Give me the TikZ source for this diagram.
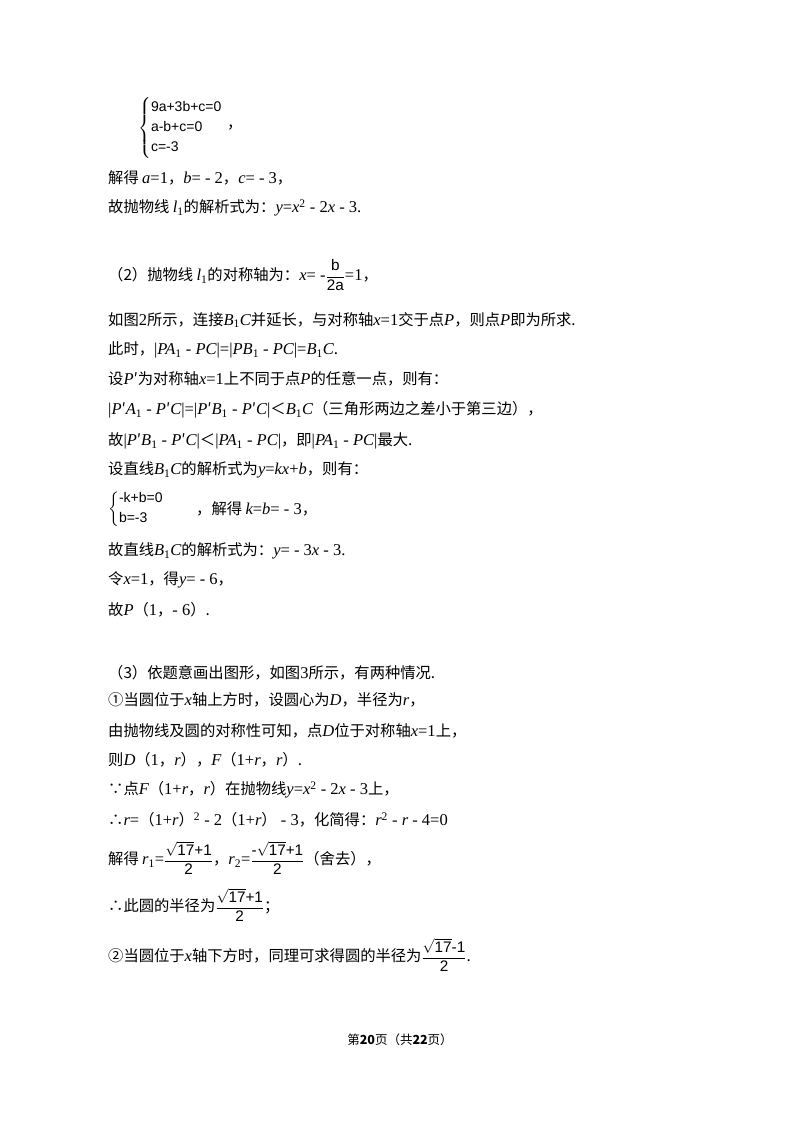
\documentclass[tikz,border=0pt]{standalone}
\usepackage{amsmath}
\usepackage{fontspec}
\setmainfont{Noto Sans CJK SC}
\newfontfamily\lib[Scale=1.08]{Liberation Serif}
\newfontfamily\las{Liberation Sans}
\newcommand{\iv}[1]{{\lib\itshape #1}}
\newcommand{\rr}[1]{{\lib #1}}
\begin{document}
\begin{tikzpicture}[x=1pt,y=-1pt,
  t/.style={anchor=west,inner sep=0pt,font=\fontsize{15.3}{18}\selectfont}]
\useasboundingbox[fill=white] (0,0) rectangle (800,1132);
% system 1
\node[t,font=\fontsize{14}{17}\selectfont] (s1) at (138,128) {$\left\{\begin{array}{@{}l@{}}\text{\las 9a+3b+c=0}\\[3pt]\text{\las a-b+c=0}\\[3pt]\text{\las c=-3}\end{array}\right.$};
\node[t] (c1) at (227,128) {，};
\node[t] (l1) at (108,178) {解得 \iv{a}\rr{=1}，\iv{b}\rr{= - 2}，\iv{c}\rr{= - 3}，};
\node[t] (l2) at (108,208) {故抛物线 \iv{l}\rr{\textsubscript{1}}的解析式为：\iv{y}\rr{=}\iv{x}\rr{\textsuperscript{2} - 2}\iv{x}\rr{ - 3.}};
\node[t] (l3) at (108,275) {（2）抛物线 \iv{l}\rr{\textsubscript{1}}的对称轴为：\iv{x}\rr{= -}$\dfrac{\text{\las b}}{\text{\las 2a}}$\rr{=1}，};
\node[t] (l4) at (108,320) {如图\rr{2}所示，连接\iv{B}\rr{\textsubscript{1}}\iv{C}并延长，与对称轴\iv{x}\rr{=1}交于点\iv{P}，则点\iv{P}即为所求.};
\node[t] (l5) at (108,350) {此时，\rr{|}\iv{PA}\rr{\textsubscript{1} - }\iv{PC}\rr{|=|}\iv{PB}\rr{\textsubscript{1} - }\iv{PC}\rr{|=}\iv{B}\rr{\textsubscript{1}}\iv{C}.};
\node[t] (l6) at (108,379) {设\iv{P}′为对称轴\iv{x}\rr{=1}上不同于点\iv{P}的任意一点，则有：};
\node[t] (l7) at (108,410) {\rr{|}\iv{P}′\iv{A}\rr{\textsubscript{1} - }\iv{P}′\iv{C}\rr{|=|}\iv{P}′\iv{B}\rr{\textsubscript{1} - }\iv{P}′\iv{C}\rr{|}＜\iv{B}\rr{\textsubscript{1}}\iv{C}（三角形两边之差小于第三边），};
\node[t] (l8) at (108,441) {故\rr{|}\iv{P}′\iv{B}\rr{\textsubscript{1} - }\iv{P}′\iv{C}\rr{|}＜\rr{|}\iv{PA}\rr{\textsubscript{1} - }\iv{PC}\rr{|}，即\rr{|}\iv{PA}\rr{\textsubscript{1} - }\iv{PC}\rr{|}最大.};
\node[t] (l9) at (108,470) {设直线\iv{B}\rr{\textsubscript{1}}\iv{C}的解析式为\iv{y}\rr{=}\iv{kx}\rr{+}\iv{b}，则有：};
\node[t,font=\fontsize{14}{17}\selectfont] (s2) at (108,509) {$\left\{\begin{array}{@{}l@{}}\text{\las -k+b=0}\\[3pt]\text{\las b=-3}\end{array}\right.$};
\node[t] (l10) at (196,509) {，解得 \iv{k}\rr{=}\iv{b}\rr{= - 3}，};
\node[t] (l11) at (108,551) {故直线\iv{B}\rr{\textsubscript{1}}\iv{C}的解析式为：\iv{y}\rr{= - 3}\iv{x}\rr{ - 3.}};
\node[t] (l12) at (108,580) {令\iv{x}\rr{=1}，得\iv{y}\rr{= - 6}，};
\node[t] (l13) at (108,610) {故\iv{P}（\rr{1}，\rr{- 6}）.};
\node[t] (l14) at (108,673) {（3）依题意画出图形，如图\rr{3}所示，有两种情况.};
\node[t] (l15) at (108,700) {①当圆位于\iv{x}轴上方时，设圆心为\iv{D}，半径为\iv{r}，};
\node[t] (l16) at (108,731) {由抛物线及圆的对称性可知，点\iv{D}位于对称轴\iv{x}\rr{=1}上，};
\node[t] (l17) at (108,760) {则\iv{D}（\rr{1}，\iv{r}），\iv{F}（\rr{1+}\iv{r}，\iv{r}）.};
\node[t] (l18) at (108,790) {∵点\iv{F}（\rr{1+}\iv{r}，\iv{r}）在抛物线\iv{y}\rr{=}\iv{x}\rr{\textsuperscript{2} - 2}\iv{x}\rr{ - 3}上，};
\node[t] (l19) at (108,820) {∴\iv{r}\rr{=}（\rr{1+}\iv{r}）\rr{\textsuperscript{2} - 2}（\rr{1+}\iv{r}）\rr{ - 3}，化简得：\iv{r}\rr{\textsuperscript{2} - }\iv{r}\rr{ - 4=0}};
\node[t] (l20) at (108,858) {解得 \iv{r}\rr{\textsubscript{1}=}$\dfrac{\text{\las$\sqrt{\text{17}}$+1}}{\text{\las 2}}$，\iv{r}\rr{\textsubscript{2}=}$\dfrac{\text{\las -$\sqrt{\text{17}}$+1}}{\text{\las 2}}$（舍去），};
\node[t] (l21) at (108,905) {∴此圆的半径为$\dfrac{\text{\las$\sqrt{\text{17}}$+1}}{\text{\las 2}}$；};
\node[t] (l22) at (108,955) {②当圆位于\iv{x}轴下方时，同理可求得圆的半径为$\dfrac{\text{\las$\sqrt{\text{17}}$-1}}{\text{\las 2}}$.};
\node[anchor=center,inner sep=0pt,font=\fontsize{12.5}{14}\selectfont] (ft) at (400,1040) {第\textbf{20}页（共\textbf{22}页）};
\end{tikzpicture}
\end{document}
